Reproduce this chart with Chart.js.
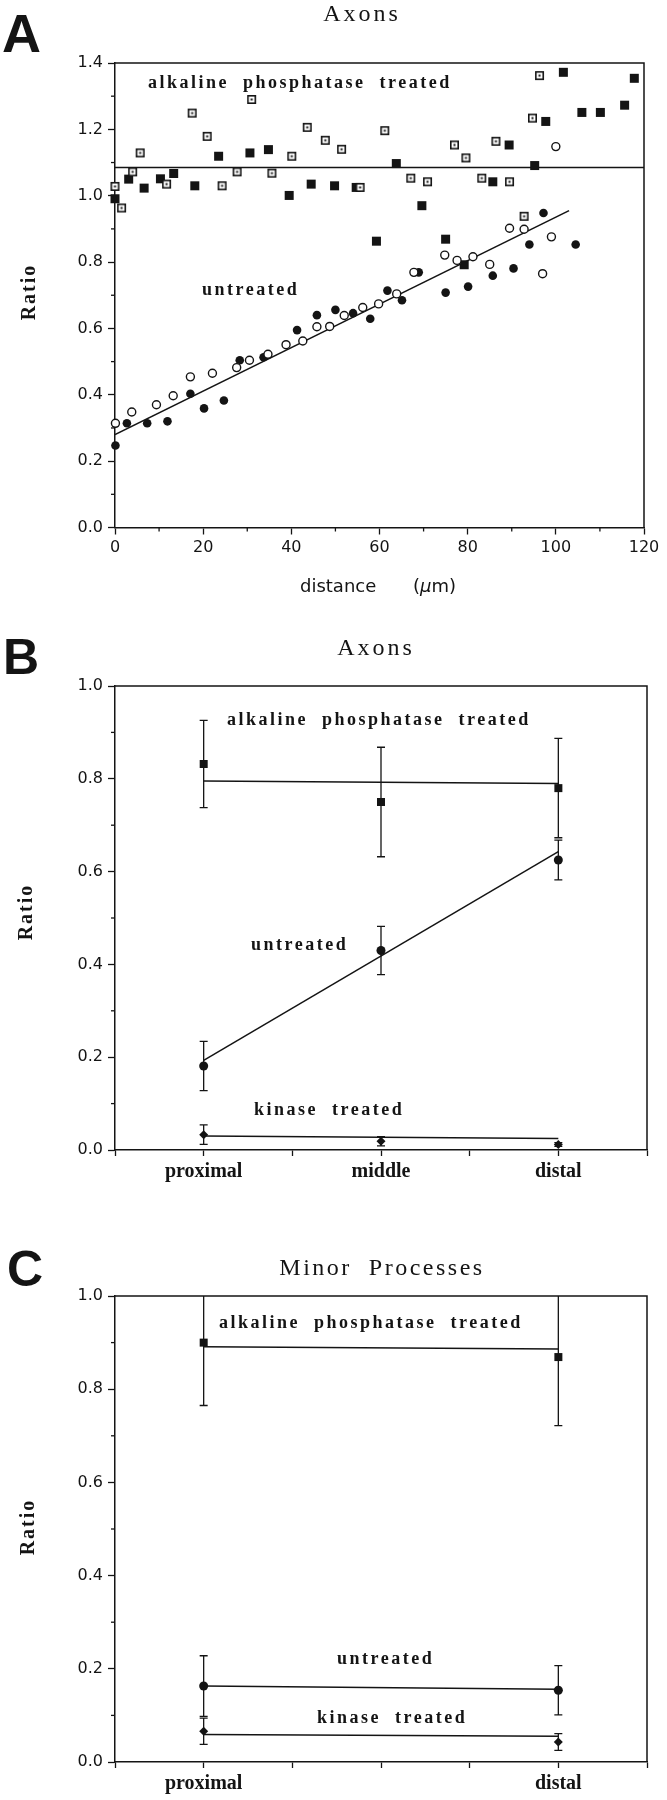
<!DOCTYPE html>
<html><head><meta charset="utf-8">
<script src="https://cdn.jsdelivr.net/npm/chart.js@4.4.0/dist/chart.umd.min.js"></script>
<style>
html,body{margin:0;padding:0;background:#fff;}
body{width:667px;height:1800px;position:relative;overflow:hidden;}
canvas{position:absolute;left:0;}
</style></head><body>
<canvas id="cA" width="667" height="620" style="top:0px"></canvas>
<canvas id="cB" width="667" height="580" style="top:620px"></canvas>
<canvas id="cC" width="667" height="600" style="top:1200px"></canvas>
<script>
// ---------- Panel A data (distance in µm, ratio) ----------
const distOpenSq  = [0,1.5,4,5.7,11.7,17.5,20.9,24.3,27.7,31,35.6,40.1,43.6,47.7,51.4,55.6,61.2,67.1,70.9,77,79.6,83.2,86.4,89.5,92.8,94.7,96.3];
const ratioOpenSq = [1.028,0.963,1.072,1.129,1.035,1.249,1.179,1.030,1.072,1.290,1.068,1.119,1.206,1.167,1.140,1.025,1.196,1.053,1.042,1.153,1.114,1.053,1.164,1.042,0.938,1.234,1.362];
const distFilledSq  = [0,3.1,6.6,10.3,13.3,18.1,23.5,30.6,34.8,39.5,44.5,49.8,54.7,59.3,63.8,69.6,75,79.2,85.7,89.4,95.2,97.7,101.7,105.9,110.1,115.6,117.8];
const ratioFilledSq = [0.991,1.050,1.023,1.051,1.067,1.030,1.119,1.129,1.139,1.001,1.035,1.030,1.025,0.863,1.097,0.970,0.869,0.792,1.042,1.153,1.091,1.224,1.372,1.251,1.251,1.273,1.354];
const distFilledCirc  = [0.1,2.7,7.3,11.9,17.1,20.2,24.7,28.3,33.7,41.3,45.8,50,54,57.9,61.8,65.1,68.9,75,80.1,85.7,90.4,94,97.2,104.5];
const ratioFilledCirc = [0.247,0.314,0.314,0.320,0.403,0.359,0.383,0.504,0.513,0.595,0.640,0.656,0.646,0.629,0.714,0.685,0.769,0.708,0.726,0.759,0.781,0.853,0.948,0.853];
const distOpenCirc  = [0.1,3.8,9.4,13.2,17.1,22.1,27.6,30.5,34.7,38.8,42.6,45.8,48.7,52,56.2,59.8,63.9,67.8,74.8,77.6,81.2,85,89.5,92.8,97,99,100];
const ratioOpenCirc = [0.314,0.348,0.370,0.397,0.454,0.465,0.482,0.504,0.522,0.551,0.562,0.605,0.606,0.639,0.663,0.674,0.704,0.769,0.821,0.805,0.816,0.793,0.902,0.899,0.765,0.876,1.148];
const fitUntreatedA_x = [0, 103];
const fitUntreatedA_y = [0.28, 0.955];
const fitAlkA_x = [0, 120];
const fitAlkA_y = [1.085, 1.085];

// ---------- Panel B data ----------
const categoriesB = ['proximal','middle','distal'];
const xTickLabelsB = ['', 'proximal', '', 'middle', '', 'distal', ''];
const alkB = [0.832, 0.750, 0.780];
const alkBErr = [0.094, 0.118, 0.107];
const untB = [0.181, 0.430, 0.625];
const untBErr = [0.053, 0.052, 0.043];
const kinB = [0.033, 0.019, 0.012];
const kinBErr = [0.021, 0.010, 0.004];
const fitCats = ['proximal','distal'];
const fitAlkB = [0.795, 0.790];
const fitUntB = [0.193, 0.643];
const fitKinB = [0.030, 0.025];

// ---------- Panel C data ----------
const categoriesC = ['proximal','distal'];
const xTickLabelsC = ['', 'proximal', '', '', '', 'distal', ''];
const alkC = [0.900, 0.869];
const alkCErr = [0.135, 0.147];
const untC = [0.163, 0.154];
const untCErr = [0.065, 0.053];
const kinC = [0.066, 0.043];
const kinCErr = [0.028, 0.018];
const fitAlkC = [0.891, 0.886];
const fitUntC = [0.163, 0.156];
const fitKinC = [0.059, 0.055];

// ---------- styling helpers ----------
const INK = '#141414';
function squareMarker(filled, size){
  const s = size + 2;
  const c = document.createElement('canvas'); c.width = s; c.height = s;
  const g = c.getContext('2d');
  if (filled) { g.fillStyle = INK; g.fillRect(1,1,size,size); }
  else {
    g.fillStyle = '#fff'; g.fillRect(1,1,size,size);
    g.strokeStyle = INK; g.lineWidth = 1.6; g.strokeRect(1.8,1.8,size-1.6,size-1.6);
    g.fillStyle = INK; g.fillRect(s/2-1, s/2-1, 2, 2);
  }
  return c;
}
const openSqImg = squareMarker(false, 9);
const filledSqImg = squareMarker(true, 9);
const filledSqImgB = squareMarker(true, 8);

const pts = (xs, ys) => xs.map((x,i)=>({x, y: ys[i]}));

function makeDeco(cfg){
  return {
    id: 'deco',
    afterDatasetsDraw(chart){
      const ctx = chart.ctx, a = chart.chartArea, ys = chart.scales.y;
      ctx.save();
      ctx.beginPath(); ctx.rect(a.left, a.top, a.right - a.left, a.bottom - a.top); ctx.clip();
      ctx.strokeStyle = INK; ctx.lineWidth = 1.3;
      chart.data.datasets.forEach((ds, di) => {
        if (!ds.errors) return;
        const meta = chart.getDatasetMeta(di);
        meta.data.forEach((pt, i) => {
          const m = ds.data[i].y, e = ds.errors[i];
          const y1 = ys.getPixelForValue(m + e), y2 = ys.getPixelForValue(m - e);
          ctx.beginPath();
          ctx.moveTo(pt.x, y1); ctx.lineTo(pt.x, y2);
          ctx.moveTo(pt.x - 4, y1); ctx.lineTo(pt.x + 4, y1);
          ctx.moveTo(pt.x - 4, y2); ctx.lineTo(pt.x + 4, y2);
          ctx.stroke();
        });
      });
      ctx.restore();
    },
    afterDraw(chart){
      const ctx = chart.ctx, a = chart.chartArea;
      ctx.save();
      ctx.strokeStyle = INK; ctx.lineWidth = 1.5;
      ctx.beginPath(); ctx.moveTo(a.left, a.top); ctx.lineTo(a.right, a.top); ctx.lineTo(a.right, a.bottom); ctx.stroke();
      ctx.lineWidth = 1.3;
      ['x','y'].forEach(id => {
        const fn = cfg.minor && cfg.minor[id]; if (!fn) return;
        const s = chart.scales[id];
        s.ticks.forEach(t => {
          if (!fn(t.value)) return;
          const p = s.getPixelForValue(t.value);
          ctx.beginPath();
          if (id === 'y') { ctx.moveTo(a.left - 4, p); ctx.lineTo(a.left, p); }
          else { ctx.moveTo(p, a.bottom); ctx.lineTo(p, a.bottom + 4); }
          ctx.stroke();
        });
      });
      ctx.fillStyle = INK;
      (cfg.texts || []).forEach(t => {
        ctx.save();
        ctx.letterSpacing = (t.ls || 0) + 'px';
        ctx.textBaseline = t.base || 'middle';
        ctx.translate(t.x, t.y);
        if (t.rot) ctx.rotate(t.rot * Math.PI / 180);
        if (t.parts) {
          ctx.textAlign = 'left';
          let x = 0;
          t.parts.forEach(p => { ctx.font = p.font; ctx.fillText(p.text, x, 0); x += ctx.measureText(p.text).width; });
        } else {
          ctx.font = t.font;
          ctx.textAlign = t.align || 'left';
          ctx.fillText(t.text, 0, 0);
        }
        ctx.restore();
      });
      ctx.restore();
    }
  };
}

const SERIF = '"Liberation Serif", "Times New Roman", serif';
const SANS = '"DejaVu Sans", sans-serif';
const LBL = 'bold 18px ' + SERIF;
const LETTER = '"Liberation Sans", Arial, sans-serif';

function yScale(max, width){
  return {
    type: 'linear', min: 0, max: max,
    afterFit: s => { s.width = width; },
    ticks: { stepSize: 0.1, autoSkip: false, color: INK, padding: 5,
      font: { family: SANS, size: 16 },
      callback: v => (Math.round(v*10) % 2 === 0) ? v.toFixed(1) : '' },
    grid: { display: true, drawOnChartArea: false, drawTicks: true, tickLength: 7, tickWidth: 1.3,
      tickColor: c => (Math.round(c.tick.value*10) % 2 === 0) ? INK : 'rgba(0,0,0,0)' },
    border: { display: true, color: INK, width: 1.5 }
  };
}

// ---------- Chart A ----------
new Chart(document.getElementById('cA'), {
  type: 'line',
  data: { datasets: [
    { data: pts(distOpenCirc, ratioOpenCirc), showLine: false, pointStyle: 'circle', pointRadius: 4, pointBackgroundColor: '#fff', pointBorderColor: INK, pointBorderWidth: 1.4, clip: false },
    { data: pts(distFilledCirc, ratioFilledCirc), showLine: false, pointStyle: 'circle', pointRadius: 4.3, pointBackgroundColor: INK, pointBorderColor: INK, pointBorderWidth: 0, clip: false },
    { data: pts(distOpenSq, ratioOpenSq), showLine: false, pointStyle: openSqImg, pointRadius: 5, clip: false },
    { data: pts(distFilledSq, ratioFilledSq), showLine: false, pointStyle: filledSqImg, pointRadius: 5, clip: false },
    { data: pts(fitUntreatedA_x, fitUntreatedA_y), borderColor: INK, borderWidth: 1.6, pointRadius: 0 },
    { data: pts(fitAlkA_x, fitAlkA_y), borderColor: INK, borderWidth: 1.5, pointRadius: 0 }
  ]},
  options: {
    responsive: false, animation: false, devicePixelRatio: 1,
    layout: { padding: { left: 0, top: 63, right: 23, bottom: 0 }, autoPadding: false },
    plugins: { legend: { display: false }, tooltip: { enabled: false } },
    scales: {
      x: { type: 'linear', min: 0, max: 120,
        afterFit: s => { s.height = 92.5; },
        ticks: { stepSize: 10, autoSkip: false, color: INK, padding: 4, maxRotation: 0,
          font: { family: SANS, size: 16 },
          callback: v => (v % 20 === 0) ? String(v) : '' },
        grid: { display: true, drawOnChartArea: false, drawTicks: true, tickLength: 7, tickWidth: 1.3,
          tickColor: c => (c.tick.value % 20 === 0) ? INK : 'rgba(0,0,0,0)' },
        border: { display: true, color: INK, width: 1.5 } },
      y: yScale(1.4, 115)
    }
  },
  plugins: [makeDeco({
    minor: { x: v => v % 20 !== 0, y: v => Math.round(v*10) % 2 !== 0 },
    texts: [
      { text: 'A', x: 2, y: 52, font: 'bold 54px ' + LETTER, base: 'alphabetic' },
      { text: 'Axons', x: 362, y: 15, font: '24px ' + SERIF, ls: 3, align: 'center' },
      { text: 'alkaline  phosphatase  treated', x: 148, y: 83, font: LBL, ls: 2.5 },
      { text: 'untreated', x: 202, y: 290, font: LBL, ls: 2.5 },
      { text: 'Ratio', x: 30, y: 292, font: 'bold 20px ' + SERIF, ls: 2, align: 'center', rot: -90 },
      { text: 'distance', x: 300, y: 587, font: '18px ' + SANS },
      { x: 413, y: 587, parts: [ { text: '(', font: '18px ' + SANS }, { text: 'µ', font: 'italic 18px ' + SANS }, { text: 'm)', font: '18px ' + SANS } ] }
    ]
  })]
});

// ---------- Panels B and C ----------
function catChart(id, top, xh, labels, cats, series, fits, texts){
  const ds = [];
  series.forEach(s => ds.push({ data: cats.map((c,i)=>({x:c, y:s.vals[i]})), errors: s.errs, showLine: false,
    pointStyle: s.style, pointRadius: s.r, pointBackgroundColor: INK, pointBorderColor: INK, pointBorderWidth: 0, clip: false }));
  fits.forEach(f => ds.push({ data: fitCats.map((c,i)=>({x:c, y:f[i]})), borderColor: INK, borderWidth: 1.5, pointRadius: 0 }));
  new Chart(document.getElementById(id), {
    type: 'line',
    data: { labels: labels, datasets: ds },
    options: {
      responsive: false, animation: false, devicePixelRatio: 1,
      layout: { padding: { left: 0, top: top, right: 20, bottom: 0 }, autoPadding: false },
      plugins: { legend: { display: false }, tooltip: { enabled: false } },
      scales: {
        x: { type: 'category', offset: false,
          afterFit: s => { s.height = xh; },
          ticks: { autoSkip: false, color: INK, padding: 4, maxRotation: 0,
            font: { family: SERIF, size: 20, weight: 'bold' } },
          grid: { display: true, drawOnChartArea: false, drawTicks: true, tickLength: 6, tickWidth: 1.3, tickColor: INK },
          border: { display: true, color: INK, width: 1.5 } },
        y: yScale(1.0, 115)
      }
    },
    plugins: [makeDeco({ minor: { y: v => Math.round(v*10) % 2 !== 0 }, texts: texts })]
  });
}

catChart('cB', 66, 50, xTickLabelsB, categoriesB,
  [ { vals: alkB, errs: alkBErr, style: filledSqImgB, r: 5 },
    { vals: untB, errs: untBErr, style: 'circle', r: 4.5 },
    { vals: kinB, errs: kinBErr, style: 'rectRot', r: 4.5 } ],
  [fitAlkB, fitUntB, fitKinB],
  [ { text: 'B', x: 3, y: 54, font: 'bold 50px ' + LETTER, base: 'alphabetic' },
    { text: 'Axons', x: 376, y: 29, font: '24px ' + SERIF, ls: 3, align: 'center' },
    { text: 'alkaline  phosphatase  treated', x: 227, y: 100, font: LBL, ls: 2.5 },
    { text: 'untreated', x: 251, y: 325, font: LBL, ls: 2.5 },
    { text: 'kinase  treated', x: 254, y: 490, font: LBL, ls: 2.5 },
    { text: 'Ratio', x: 27, y: 292, font: 'bold 20px ' + SERIF, ls: 2, align: 'center', rot: -90 } ]);

catChart('cC', 96, 38, xTickLabelsC, categoriesC,
  [ { vals: alkC, errs: alkCErr, style: filledSqImgB, r: 5 },
    { vals: untC, errs: untCErr, style: 'circle', r: 4.5 },
    { vals: kinC, errs: kinCErr, style: 'rectRot', r: 4.5 } ],
  [fitAlkC, fitUntC, fitKinC],
  [ { text: 'C', x: 7, y: 86, font: 'bold 50px ' + LETTER, base: 'alphabetic' },
    { text: 'Minor  Processes', x: 382, y: 69, font: '24px ' + SERIF, ls: 2.5, align: 'center' },
    { text: 'alkaline  phosphatase  treated', x: 219, y: 123, font: LBL, ls: 2.5 },
    { text: 'untreated', x: 337, y: 459, font: LBL, ls: 2.5 },
    { text: 'kinase  treated', x: 317, y: 518, font: LBL, ls: 2.5 },
    { text: 'Ratio', x: 29, y: 327, font: 'bold 20px ' + SERIF, ls: 2, align: 'center', rot: -90 } ]);
</script>
</body></html>
